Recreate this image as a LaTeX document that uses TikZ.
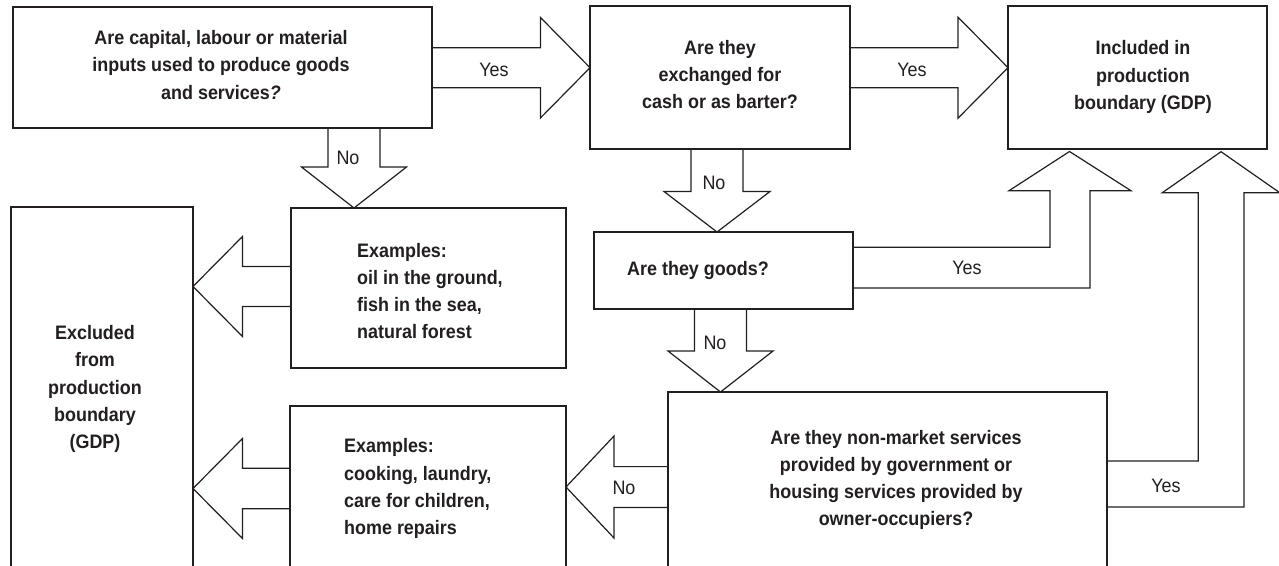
\documentclass[tikz,border=0pt]{standalone}
\usepackage{fontspec}
\setmainfont[FakeStretch=0.92]{Liberation Sans}
\usetikzlibrary{calc}
\definecolor{ink}{HTML}{231F20}
\newcommand\HArrow[5]{\draw[blk] ($(#1)+(0,{-(#3)})$) -- ($(#2)+({-(#5)},{-(#3)})$) -- ($(#2)+({-(#5)},{-(#4)})$) -- (#2) -- ($(#2)+({-(#5)},{#4})$) -- ($(#2)+({-(#5)},{#3})$) -- ($(#1)+(0,{#3})$);}
\newcommand\VArrow[5]{\draw[blk] ($(#1)+({-(#3)},0)$) -- ($(#2)+({-(#3)},{-(#5)})$) -- ($(#2)+({-(#4)},{-(#5)})$) -- (#2) -- ($(#2)+({#4},{-(#5)})$) -- ($(#2)+({#3},{-(#5)})$) -- ($(#1)+({#3},0)$);}
\begin{document}
\begin{tikzpicture}[x=1pt,y=-1pt,
  box/.style={draw=ink, line width=1.8pt, inner sep=0pt, outer sep=0pt, anchor=north west},
  blk/.style={draw=ink, line width=1.2pt, line join=miter},
  txt/.style={text=ink, font=\fontsize{19.5}{27.3}\selectfont\bfseries, inner sep=0pt},
  lbl/.style={text=ink, font=\fontsize{19.5}{20}\selectfont, inner sep=0pt}]
\clip (0,0) rectangle (1279,565);
\fill[white] (0,0) rectangle (1279,565);
% boxes
\node[box, minimum width=419pt, minimum height=121pt] (A) at (13,7) {};
\node[box, minimum width=260pt, minimum height=143pt] (B) at (590,6) {};
\node[box, minimum width=259pt, minimum height=143pt] (C) at (1008,6) {};
\node[box, minimum width=182pt, minimum height=413pt] (X) at (11,207) {};
\node[box, minimum width=275pt, minimum height=160pt] (E1) at (291,208) {};
\node[box, minimum width=259pt, minimum height=77pt] (D) at (594,232) {};
\node[box, minimum width=276pt, minimum height=214pt] (E2) at (290,406) {};
\node[box, minimum width=439pt, minimum height=228pt] (E) at (668,392) {};
% texts
\node[txt, align=center] (tA) at (221,65) {Are capital, labour or material\\inputs used to produce goods\\and services{\itshape ?}};
\node[txt, align=center] (tB) at (720,74.5) {Are they\\exchanged for\\cash or as barter?};
\node[txt, align=center] (tC) at (1143,77) {Included in\\production\\boundary (GDP)};
\node[txt, align=center] (tX) at (95,389) {Excluded\\from\\production\\boundary\\(GDP)};
\node[txt, align=left, anchor=west] (tE1) at (357,291) {Examples:\\oil in the ground,\\fish in the sea,\\natural forest};
\node[txt, anchor=west] (tD) at (627,270) {Are they goods?};
\node[txt, align=left, anchor=west] (tE2) at (344,488.7) {Examples:\\cooking, laundry,\\care for children,\\home repairs};
\node[txt, align=center] (tE) at (896,480) {Are they non-market services\\provided by government or\\housing services provided by\\owner-occupiers?};
% arrow end points
\coordinate (ab0) at (A.east |- 0,67.7);  \coordinate (ab1) at (B.west |- 0,67.7);
\coordinate (bc0) at (B.east |- 0,67.7);  \coordinate (bc1) at (C.west |- 0,67.7);
\coordinate (ax0) at (A.south -| 354,0);  \coordinate (ax1) at (E1.north -| 354,0);
\coordinate (bd0) at (B.south -| 717,0);  \coordinate (bd1) at (D.north -| 717,0);
\coordinate (de0) at (D.south -| 720.5,0); \coordinate (de1) at (E.north -| 720.5,0);
\coordinate (x10) at (E1.west |- 0,286.5); \coordinate (x11) at (X.east |- 0,286.5);
\coordinate (x20) at (E2.west |- 0,488.5); \coordinate (x21) at (X.east |- 0,488.5);
\coordinate (ee0) at (E.west |- 0,487);   \coordinate (ee1) at (E2.east |- 0,487);
% block arrows
\HArrow{ab0}{ab1}{20}{50.2}{49.5}
\HArrow{bc0}{bc1}{20}{50.5}{50}
\VArrow{ax0}{ax1}{26}{52.5}{41}
\VArrow{bd0}{bd1}{26}{53}{40.5}
\VArrow{de0}{de1}{26}{52.5}{41}
\HArrow{x10}{x11}{20}{50}{-49.5}
\HArrow{x20}{x21}{20.3}{50}{-49.5}
\HArrow{ee0}{ee1}{20.4}{51}{-48}
% elbow arrows to C
\coordinate (dc1) at (1069.5,151.5);
\draw[blk] (D.east |- 0,247.3) -- (1050,247.3) -- (1050,190.7) -- (1009,190.7) -- (dc1) -- (1131,190.7) -- (1090,190.7) -- (1090,288) -- (D.east |- 0,288);
\coordinate (ec1) at (1221,151.7);
\draw[blk] (E.east |- 0,461) -- (1198.3,461) -- (1198.3,192.7) -- (1162.3,192.7) -- (ec1) -- (1279.7,192.7) -- (1244,192.7) -- (1244,507) -- (E.east |- 0,507);
% labels
\node[lbl] (yAB) at (494,70) {Yes};
\node[lbl] (yBC) at (912,70) {Yes};
\node[lbl] (nAX) at (348,158) {No};
\node[lbl] (nBD) at (714,183) {No};
\node[lbl] (nDE) at (715,343) {No};
\node[lbl] (nEE) at (624,488) {No};
\node[lbl] (yDC) at (967,268) {Yes};
\node[lbl] (yEC) at (1166,486) {Yes};
\end{tikzpicture}
\end{document}
